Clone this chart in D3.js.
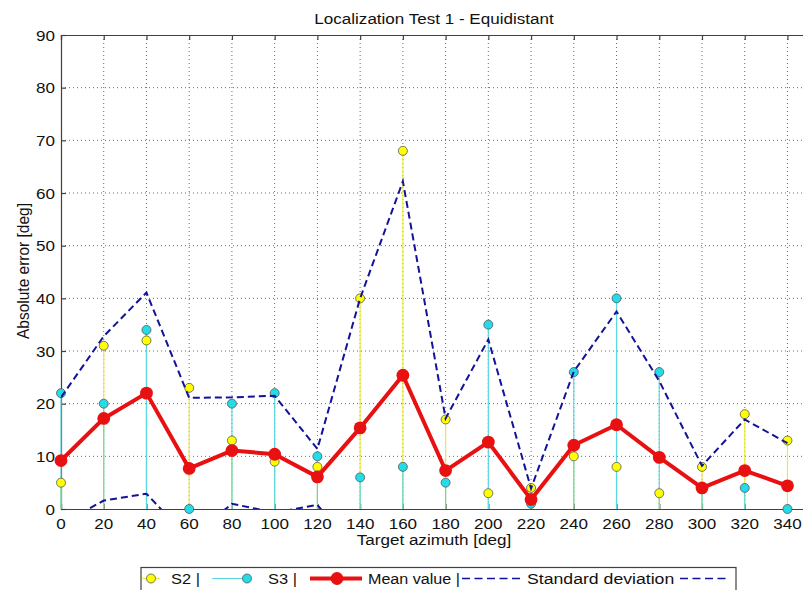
<!DOCTYPE html>
<html><head><meta charset="utf-8">
<script src="https://cdn.jsdelivr.net/npm/d3@7"></script>
<style>
body{margin:0;background:#fff}
svg{display:block}
text{font-family:"Liberation Sans",Arial,sans-serif;fill:#111}
</style>
</head><body>
<svg id="chart" width="803" height="590"></svg>
<script>
// ---- data ----
const azimuths   = [0,20,40,60,80,100,120,140,160,180,200,220,240,260,280,300,320,340];
const s2Values   = [5,31,32,23,13,9,8,40,68,17,3,4,10,8,3,8,18,13];
const s3Values   = [22,20,34,0,20,22,10,6,8,5,35,1,26,40,26,4,4,0];
const meanValues = [9.2,17.2,22,7.7,11.1,10.4,6.1,15.4,25.4,7.3,12.7,1.8,12.1,16,9.8,4,7.3,4.4];
const stdValues  = [12,15.6,19.1,13.4,10.1,11.1,5.3,24.6,36.8,9.9,19.5,2.1,14,21.5,14.5,4.2,9.7,8.1];
const yTicks = [0,10,20,30,40,50,60,70,80,90];
const xTicks = azimuths;
const titleText = "Localization Test 1 - Equidistant";
const xLabel = "Target azimuth [deg]";
const yLabel = "Absolute error [deg]";
const legendLabels = ["S2 |","S3 |","Mean value |","Standard deviation"];

// ---- layout ----
const W = 803, H = 590;
const pL = 61, pT = 35, pB = 509, pR = 830.2;
const FS = 15.5, SX = 1.1;
const svg = d3.select("#chart");

const x = d3.scaleLinear().domain([0,360]).range([pL,pR]);
const y = d3.scaleLinear().domain([0,90]).range([pB,pT]);

svg.append("defs").append("clipPath").attr("id","plotclip")
  .append("rect").attr("x",pL).attr("y",pT).attr("width",pR-pL).attr("height",pB-pT);

const axisColor = "#404040";

// grid
const grid = svg.append("g");
grid.selectAll("line.gx").data(xTicks.filter(d=>d>0)).join("line")
  .attr("x1",d=>x(d)).attr("x2",d=>x(d)).attr("y1",pT).attr("y2",pB)
  .attr("stroke","#6a6a6a").attr("stroke-width",1).attr("stroke-dasharray","1,3");
grid.selectAll("line.gy").data(yTicks.filter(d=>d>0 && d<90)).join("line")
  .attr("x1",pL).attr("x2",W).attr("y1",d=>y(d)).attr("y2",d=>y(d))
  .attr("stroke","#6a6a6a").attr("stroke-width",1).attr("stroke-dasharray","1,3");

// axes using d3 axis generators (ticks inward)
const xAxisB = d3.axisBottom(x).tickValues(xTicks).tickSize(-5).tickFormat("");
const xAxisT = d3.axisTop(x).tickValues(xTicks).tickSize(-5).tickFormat("");
const yAxisL = d3.axisLeft(y).tickValues(yTicks).tickSize(-5).tickFormat("");
const gxb = svg.append("g").attr("transform",`translate(0,${pB})`).call(xAxisB);
const gxt = svg.append("g").attr("transform",`translate(0,${pT})`).call(xAxisT);
const gyl = svg.append("g").attr("transform",`translate(${pL},0)`).call(yAxisL);
[gxb,gxt,gyl].forEach(g=>{
  g.selectAll("path").attr("stroke",axisColor).attr("stroke-width",1.2);
  g.selectAll("line").attr("stroke",axisColor).attr("stroke-width",1.2);
});

// tick labels
svg.append("g").selectAll("g").data(xTicks).join("g")
  .attr("transform",d=>`translate(${x(d)},528.5) scale(${SX},1)`)
  .append("text").attr("text-anchor","middle").attr("font-size",FS).text(d=>d);
svg.append("g").selectAll("g").data(yTicks).join("g")
  .attr("transform",d=>`translate(55,${y(d)+5.5}) scale(${SX},1)`)
  .append("text").attr("text-anchor","end").attr("font-size",FS).text(d=>d);

// title and labels
svg.append("g").attr("transform",`translate(434,24) scale(${SX},1)`)
  .append("text").attr("text-anchor","middle").attr("font-size",FS).text(titleText);
svg.append("g").attr("transform",`translate(434,545) scale(${SX},1)`)
  .append("text").attr("text-anchor","middle").attr("font-size",FS).text(xLabel);
svg.append("g").attr("transform",`translate(29,271) scale(${SX},1) rotate(-90)`)
  .append("text").attr("text-anchor","middle").attr("font-size",FS).text(yLabel);

// colors
const yellowStem="#ecec40", yellowFill="#ffff00";
const cyanStem="#5ad8e0", cyanFill="#22dce8";
const red="#e81010", navy="#12129a";

const rows = azimuths.map((a,i)=>({a, s2:s2Values[i], s3:s3Values[i], m:meanValues[i], sd:stdValues[i]}));

// stems
svg.append("g").selectAll("line").data(rows).join("line")
  .attr("x1",d=>x(d.a)).attr("x2",d=>x(d.a)).attr("y1",y(0)).attr("y2",d=>y(d.s2))
  .attr("stroke",yellowStem).attr("stroke-width",1.2);
svg.append("g").selectAll("line").data(rows).join("line")
  .attr("x1",d=>x(d.a)).attr("x2",d=>x(d.a)).attr("y1",y(0)).attr("y2",d=>y(d.s3))
  .attr("stroke",cyanStem).attr("stroke-width",1.2);
// stem markers
svg.append("g").selectAll("circle").data(rows).join("circle")
  .attr("cx",d=>x(d.a)).attr("cy",d=>y(d.s2)).attr("r",4.5)
  .attr("fill",yellowFill).attr("stroke","#555").attr("stroke-width",0.8);
svg.append("g").selectAll("circle").data(rows).join("circle")
  .attr("cx",d=>x(d.a)).attr("cy",d=>y(d.s3)).attr("r",4.5)
  .attr("fill",cyanFill).attr("stroke","#555").attr("stroke-width",0.8);

// mean line
const line = d3.line().x(d=>x(d.a)).y(d=>y(d.v));
svg.append("path").datum(rows.map(r=>({a:r.a,v:r.m})))
  .attr("d",line).attr("fill","none").attr("stroke",red).attr("stroke-width",4)
  .attr("stroke-linejoin","round");
svg.append("g").selectAll("circle").data(rows).join("circle")
  .attr("cx",d=>x(d.a)).attr("cy",d=>y(d.m)).attr("r",6.4).attr("fill",red);

// std lines
const sdG = svg.append("g").attr("clip-path","url(#plotclip)");
sdG.append("path").datum(rows.map(r=>({a:r.a,v:r.m+r.sd})))
  .attr("d",line).attr("fill","none").attr("stroke",navy).attr("stroke-width",2)
  .attr("stroke-dasharray","7,4");
sdG.append("path").datum(rows.map(r=>({a:r.a,v:r.m-r.sd})))
  .attr("d",line).attr("fill","none").attr("stroke",navy).attr("stroke-width",2)
  .attr("stroke-dasharray","7,4");

// legend
const lg = svg.append("g");
lg.append("rect").attr("x",141).attr("y",567.5).attr("width",595).attr("height",40)
  .attr("fill","#fff").attr("stroke",axisColor).attr("stroke-width",1.2);
const ly = 578.5;
lg.append("line").attr("x1",142).attr("x2",160).attr("y1",ly).attr("y2",ly).attr("stroke",yellowStem).attr("stroke-width",1.2);
lg.append("circle").attr("cx",151).attr("cy",ly).attr("r",4.5).attr("fill",yellowFill).attr("stroke","#555").attr("stroke-width",0.8);
lg.append("line").attr("x1",212).attr("x2",247).attr("y1",ly).attr("y2",ly).attr("stroke",cyanStem).attr("stroke-width",1.2);
lg.append("circle").attr("cx",247).attr("cy",ly).attr("r",4.5).attr("fill",cyanFill).attr("stroke","#555").attr("stroke-width",0.8);
lg.append("line").attr("x1",310).attr("x2",362).attr("y1",ly).attr("y2",ly).attr("stroke",red).attr("stroke-width",4);
lg.append("circle").attr("cx",337).attr("cy",ly).attr("r",6.4).attr("fill",red);
lg.append("line").attr("x1",462).attr("x2",523).attr("y1",ly).attr("y2",ly).attr("stroke",navy).attr("stroke-width",1.5).attr("stroke-dasharray","8,4.5");
lg.append("line").attr("x1",680).attr("x2",727).attr("y1",ly).attr("y2",ly).attr("stroke",navy).attr("stroke-width",1.5).attr("stroke-dasharray","8,4.5");
const legendX = [171,268,368,527];
const legendSX = [1.06,1.06,1.04,1.14];
legendLabels.forEach((t,i)=>{
  lg.append("g").attr("transform",`translate(${legendX[i]},${ly+5.5}) scale(${legendSX[i]},1)`)
    .append("text").attr("font-size",FS).text(t);
});
</script>
</body></html>
